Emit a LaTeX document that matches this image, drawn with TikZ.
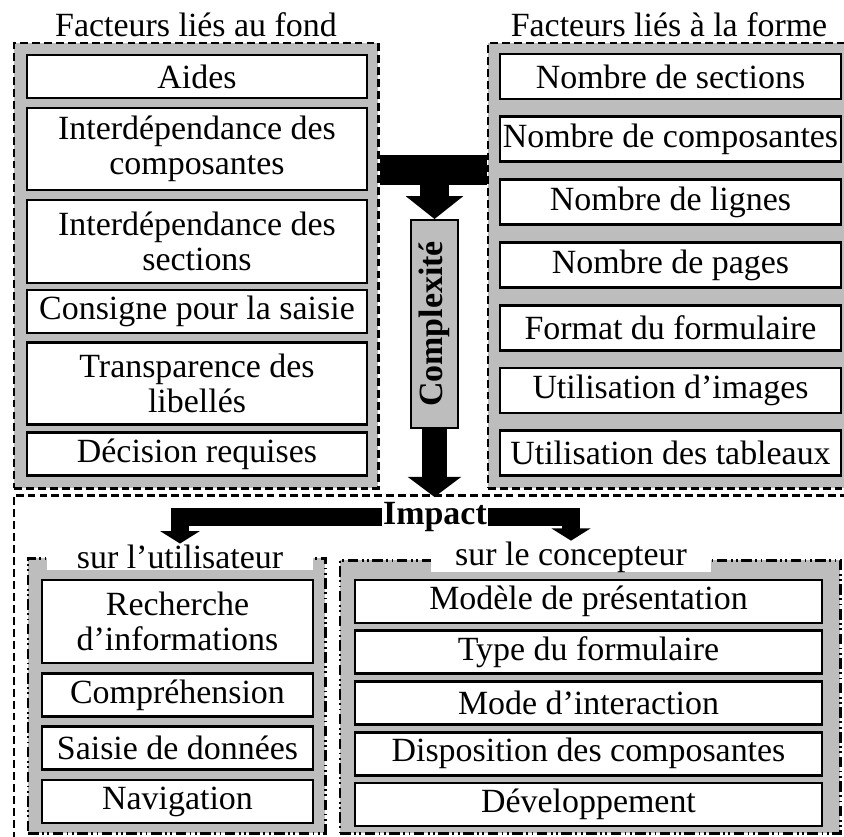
\documentclass[tikz,border=0pt]{standalone}
\usepackage{fontspec}
\setmainfont{Liberation Serif}
\usetikzlibrary{arrows.meta}
\definecolor{bandGrey}{gray}{0.74}
\tikzset{
  % one unit is 0.2mm, y runs downwards like a page layout
  every picture/.append style = {x=0.2mm, y=-0.2mm, line width=1.1pt},
  lbl/.style      = {font=\fontsize{19.3}{19.8}\selectfont},
  blbl/.style     = {font=\fontsize{19.3}{19.8}\selectfont\bfseries},
  itembox/.style  = {lbl, draw, line width=1.6pt, fill=white, inner sep=0pt, align=center},
  framedash/.style = {line width=1.7pt, dash pattern=on 4.5pt off 2.3pt},
  topframe/.style = {draw, framedash, fill=bandGrey, inner sep=0pt},
  lowframe/.style = {draw, line width=1.7pt,
                     dash pattern=on 6pt off 2pt on 1pt off 2pt on 1pt off 2pt,
                     fill=bandGrey, inner sep=0pt},
  sectitle/.style = {lbl, fill=white, inner sep=0pt, minimum height=5mm},
}

\begin{document}
\begin{tikzpicture}[
    bar/.style={line width=17pt},
    bigarrow/.style={-{Triangle[width=32pt, length=13pt]}, line width=16pt},
    midarrow/.style={-{Triangle[width=30pt, length=11.5pt]}, line width=14pt},
    elbow/.style={-{Triangle[width=22pt, length=7pt]}, line width=9.8pt}]
  \useasboundingbox (0,0) rectangle (844,836);

  % upper half: the two groups of factors
  \node[topframe, minimum width=72.8mm, minimum height=89mm] (fond) at (196,265.5) {};
  \node[topframe, minimum width=73.6mm, minimum height=89mm] (forme) at (672,265.5) {};
  \node[lbl, anchor=base] (fondtitle) at (196,36) {Facteurs liés au fond};
  \node[lbl, anchor=base] (formetitle) at (669,36) {Facteurs liés à la forme};

  \node[itembox, minimum width=68mm, minimum height=8.6mm]  (aides)    at (197,76.5)  {Aides};
  \node[itembox, minimum width=68mm, minimum height=16.4mm] (interc)   at (197,149)   {Interdépendance des\\composantes};
  \node[itembox, minimum width=68mm, minimum height=16.6mm] (inters)   at (197,241.5) {Interdépendance des\\sections};
  \node[itembox, minimum width=68mm, minimum height=8.6mm]  (consigne) at (197,311.5) {Consigne pour la saisie};
  \node[itembox, minimum width=68mm, minimum height=16.3mm] (transp)   at (197,383.5) {Transparence des\\libellés};
  \node[itembox, minimum width=68mm, minimum height=8.6mm]  (decision) at (197,454)   {Décision requises};

  \foreach \t [count=\i] in {Nombre de sections, Nombre de composantes, Nombre de lignes,
                             Nombre de pages, Format du formulaire, Utilisation d’images,
                             Utilisation des tableaux}
    \node[itembox, minimum width=68.2mm, minimum height=9mm] (forme\i)
      at (670.5,{76.5+62.8*(\i-1)}) {\t};

  % complexity in between
  \node[draw, fill=bandGrey, inner sep=0pt, minimum width=9.4mm, minimum height=41.6mm] (cplx)
    at (434.5,324) {\rotatebox{90}{\fontsize{19.3}{19.8}\selectfont\bfseries Complexité}};
  \coordinate (joint) at (434.5,170);
  \draw[bar] (fond.east |- joint) -- (forme.west |- joint);
  \draw[bigarrow] (joint) -- (cplx.north);

  % lower half: impact
  \draw[framedash] (860,495) -- (14,495) -- (14,850);
  \coordinate (landing) at (434.5,497);
  \draw[midarrow] (cplx.south) -- (landing);
  \node[blbl, inner sep=0pt] (impact) at (435,517) {Impact};

  \node[lowframe, minimum width=59.4mm, minimum height=55mm] (util) at (176.5,695.5) {};
  \node[lowframe, minimum width=100mm, minimum height=54.6mm] (concept) at (590,696.5) {};
  \node[sectitle, minimum width=53mm] (utiltitle) at (180,557) {sur l’utilisateur};
  \node[sectitle, minimum width=56mm] (concepttitle) at (571,557) {sur le concepteur};
  \draw[elbow] (impact.west) -| (utiltitle.north);
  \draw[elbow] (impact.east) -| (concepttitle.north);

  \node[itembox, minimum width=54.2mm, minimum height=16.6mm] (recherche) at (177.5,621.5) {Recherche\\d’informations};
  \foreach \t [count=\i] in {Compréhension, Saisie de données, Navigation}
    \node[itembox, minimum width=54.2mm, minimum height=8.6mm] (util\i)
      at (177.5,{695+53.25*(\i-1)}) {\t};

  \foreach \t [count=\i] in {Modèle de présentation, Type du formulaire, Mode d’interaction,
                             Disposition des composantes, Développement}
    \node[itembox, minimum width=93.4mm, minimum height=8.6mm] (concept\i)
      at (588.5,{601.5+50.75*(\i-1)}) {\t};
\end{tikzpicture}
\end{document}
